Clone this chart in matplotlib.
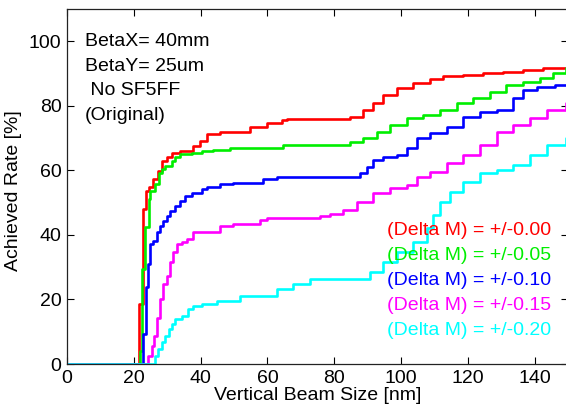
import matplotlib
matplotlib.use("Agg")
import matplotlib.pyplot as plt

plt.rcParams['font.family'] = ['Liberation Sans', 'DejaVu Sans']

# Cumulative achieved rate vs. vertical beam size for each magnet error level
red_x = [0, 21.6, 22.7, 23.7, 24.6, 25.8, 27.3, 28.4, 29.9, 31.3, 33.8, 37.8, 39.8, 41.8,
         45.8, 54.8, 59.9, 64.4, 66.0, 84.7, 88.7, 91.7, 94.7, 98.7, 103.7, 108.7, 112.7,
         118.7, 124.6, 130.6, 136.6, 142.6, 150]
red_y = [0, 18.6, 48.0, 53.7, 54.7, 57.3, 59.8, 62.9, 64.0, 65.5, 66.0, 67.6, 69.1, 71.2,
         72.0, 73.3, 74.6, 75.5, 75.8, 76.6, 78.7, 80.8, 83.4, 85.4, 87.0, 88.3, 89.3,
         89.6, 90.1, 90.6, 91.1, 91.8, 91.8]

green_x = [0, 21.9, 22.6, 23.5, 24.5, 25.0, 26.4, 27.4, 27.6, 28.4, 29.4, 31.4, 32.3, 33.8,
           37.3, 40.3, 43.7, 48.8, 64.7, 84.7, 88.7, 92.7, 96.7, 101.7, 106.7, 111.7,
           116.7, 121.7, 126.6, 131.6, 136.6, 141.6, 145.6, 149.4, 150]
green_y = [0, 4.1, 29.4, 42.3, 51.0, 53.7, 55.7, 57.3, 59.3, 60.4, 61.4, 62.9, 64.0, 65.0,
           65.5, 66.0, 66.3, 66.8, 67.9, 68.7, 70.1, 72.0, 74.1, 76.1, 77.2, 78.7,
           80.8, 82.3, 84.4, 86.5, 87.5, 88.5, 90.1, 91.8, 91.8]

blue_x = [0, 22.7, 23.7, 24.4, 25.0, 25.8, 26.9, 27.8, 28.8, 29.9, 30.8, 32.3, 33.8, 35.3,
          37.3, 40.3, 41.9, 45.8, 49.7, 58.7, 62.9, 87.7, 89.7, 91.7, 94.7, 98.7, 101.7,
          104.7, 108.7, 113.7, 118.7, 123.7, 128.7, 133.6, 136.6, 140.6, 146.0, 150]
blue_y = [0, 9.3, 23.8, 31.0, 37.2, 38.2, 40.8, 42.8, 44.4, 45.9, 47.5, 49.0, 50.6, 52.1,
          53.1, 54.2, 54.8, 55.7, 56.2, 57.3, 58.0, 59.1, 61.1, 63.2, 64.2, 64.8, 66.8,
          69.9, 71.5, 73.5, 76.6, 78.2, 78.7, 82.3, 84.9, 85.9, 86.4, 86.4]

magenta_x = [0, 24.4, 25.4, 25.9, 26.9, 27.8, 28.8, 29.8, 30.8, 31.8, 32.8, 34.3, 35.8,
             37.8, 39.8, 45.8, 49.7, 57.8, 59.9, 75.7, 78.7, 82.7, 86.7, 91.7, 96.7,
             101.7, 104.7, 108.7, 113.7, 118.7, 123.7, 128.7, 133.6, 138.6, 143.6,
             149.4, 150]
magenta_y = [0, 2.6, 5.7, 8.8, 14.4, 20.1, 24.8, 27.3, 31.5, 34.6, 37.2, 37.7, 38.7,
             40.8, 41.0, 42.8, 43.3, 44.7, 45.1, 45.9, 46.4, 47.7, 50.3, 52.9, 54.4,
             55.5, 58.0, 59.6, 62.2, 64.8, 67.9, 72.0, 74.1, 76.1, 78.7,
             80.8, 80.8]

cyan_x = [0, 26.3, 27.3, 28.4, 29.4, 30.4, 31.4, 32.3, 34.3, 36.3, 37.8, 40.3, 44.8, 51.8,
          62.9, 67.7, 72.7, 90.7, 94.7, 98.7, 103.7, 107.7, 109.7, 111.7, 114.7, 118.7,
          123.7, 128.7, 133.6, 138.6, 143.6, 149.4, 150]
cyan_y = [0, 2.6, 4.6, 6.7, 8.8, 10.8, 12.4, 13.9, 15.0, 17.0, 18.0, 18.6, 19.6, 21.1,
          23.2, 24.8, 26.3, 28.6, 31.7, 34.8, 37.9, 42.0, 46.2, 50.3, 53.4, 56.5,
          59.1, 60.1, 61.7, 64.8, 67.9, 69.9, 69.9]

series_labels = ["(Delta M) = +/-0.00", "(Delta M) = +/-0.05", "(Delta M) = +/-0.10",
                 "(Delta M) = +/-0.15", "(Delta M) = +/-0.20"]
series_colors = ["#ff0000", "#00ee00", "#0000ff", "#ff00ff", "#00ffff"]

info_lines = ["BetaX= 40mm", "BetaY= 25um", " No SF5FF", "(Original)"]

x_ticks = [0, 20, 40, 60, 80, 100, 120, 140]
y_ticks = [0, 20, 40, 60, 80, 100]

fig = plt.figure(figsize=(5.66, 4.04), dpi=100)
ax = fig.add_axes([0.1184, 0.099, 0.885, 0.879])

all_x = [red_x, green_x, blue_x, magenta_x, cyan_x]
all_y = [red_y, green_y, blue_y, magenta_y, cyan_y]
for xs, ys, c in zip(all_x, all_y, series_colors):
    ax.step(xs, ys, where='post', color=c, lw=1.9)

ax.set_xlim(0, 150)
ax.set_ylim(0, 110)
ax.set_xticks(x_ticks)
ax.set_yticks(y_ticks)
ax.tick_params(direction='in', top=True, right=True, length=5, width=0.8,
               labelsize=14, pad=4)
for s in ax.spines.values():
    s.set_linewidth(0.9)
    s.set_color('#222222')

ax.set_xlabel("Vertical Beam Size [nm]", fontsize=14, labelpad=0)
ax.set_ylabel("Achieved Rate [%]", fontsize=14)
ax.yaxis.set_label_coords(-0.09, 0.487)

for i, line in enumerate(info_lines):
    ax.text(5.4, 99.8 - 7.6 * i, line, fontsize=14, ha='left', va='center')

for i, (lab, c) in enumerate(zip(series_labels, series_colors)):
    ax.text(145.1, 41.5 - 7.75 * i, lab, fontsize=14, color=c, ha='right', va='center')

fig.savefig("out.png", dpi=100)
